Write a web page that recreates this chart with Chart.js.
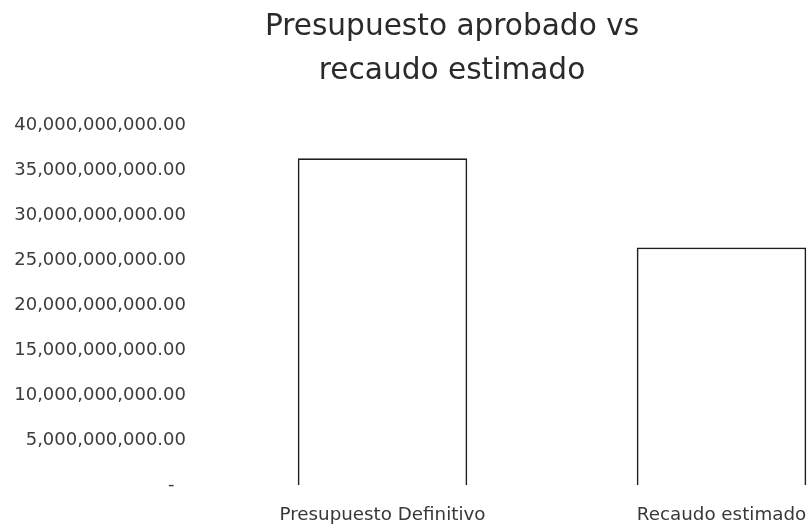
<!DOCTYPE html>
<html>
<head>
<meta charset="utf-8">
<script src="https://cdn.jsdelivr.net/npm/chart.js@4/dist/chart.umd.min.js"></script>
<style>
  html, body { margin: 0; padding: 0; background: #fff; overflow: hidden; }
  canvas { display: block; }
</style>
</head>
<body>
<canvas id="myBarChart" width="911" height="527"></canvas>
<script>
// categories and values
var categories = ['Presupuesto Definitivo', 'Recaudo estimado'];
var amounts = [36300000000, 26400000000];
var titleLines = ['Presupuesto aprobado vs', 'recaudo estimado'];
var yMax = 40000000000;
var yStep = 5000000000;

// accounting style: zero shows as a dash
function formatTick(value) {
    if (value === 0) return '-  ';
    return value.toLocaleString('en-US', { minimumFractionDigits: 2, maximumFractionDigits: 2 });
}

var ctx = document.getElementById('myBarChart').getContext('2d');

var myBarChart = new Chart(ctx, {
    type: 'bar',
    data: {
        labels: categories,
        datasets: [{
            data: amounts,
            backgroundColor: '#ffffff',
            borderColor: '#1e1e1e',
            borderWidth: 1.8,
            categoryPercentage: 1,
            barPercentage: 0.5
        }]
    },
    options: {
        responsive: false,
        animation: false,
        layout: {
            padding: { left: 13, right: 20, top: 0, bottom: 1 }
        },
        plugins: {
            legend: { display: false },
            tooltip: { enabled: false },
            title: {
                display: true,
                text: titleLines,
                color: '#2a2a2a',
                font: { family: 'DejaVu Sans', size: 29.6, weight: 'normal', lineHeight: 1.486 },
                padding: { top: 5, bottom: 32 }
            }
        },
        scales: {
            x: {
                grid: { display: false, drawTicks: false },
                border: { display: false },
                ticks: {
                    color: '#383838',
                    font: { family: 'DejaVu Sans', size: 18.3 },
                    padding: 19,
                    maxRotation: 0
                },
                afterFit: function (scale) {
                    scale.height = 41;
                }
            },
            y: {
                min: 0,
                max: yMax,
                grid: { display: false, drawTicks: false },
                border: { display: false },
                ticks: {
                    stepSize: yStep,
                    color: '#3c3c3c',
                    font: { family: 'DejaVu Sans', size: 18 },
                    padding: 27,
                    callback: formatTick
                },
                afterFit: function (scale) {
                    scale.width = 200;
                }
            }
        }
    }
});
</script>
</body>
</html>
